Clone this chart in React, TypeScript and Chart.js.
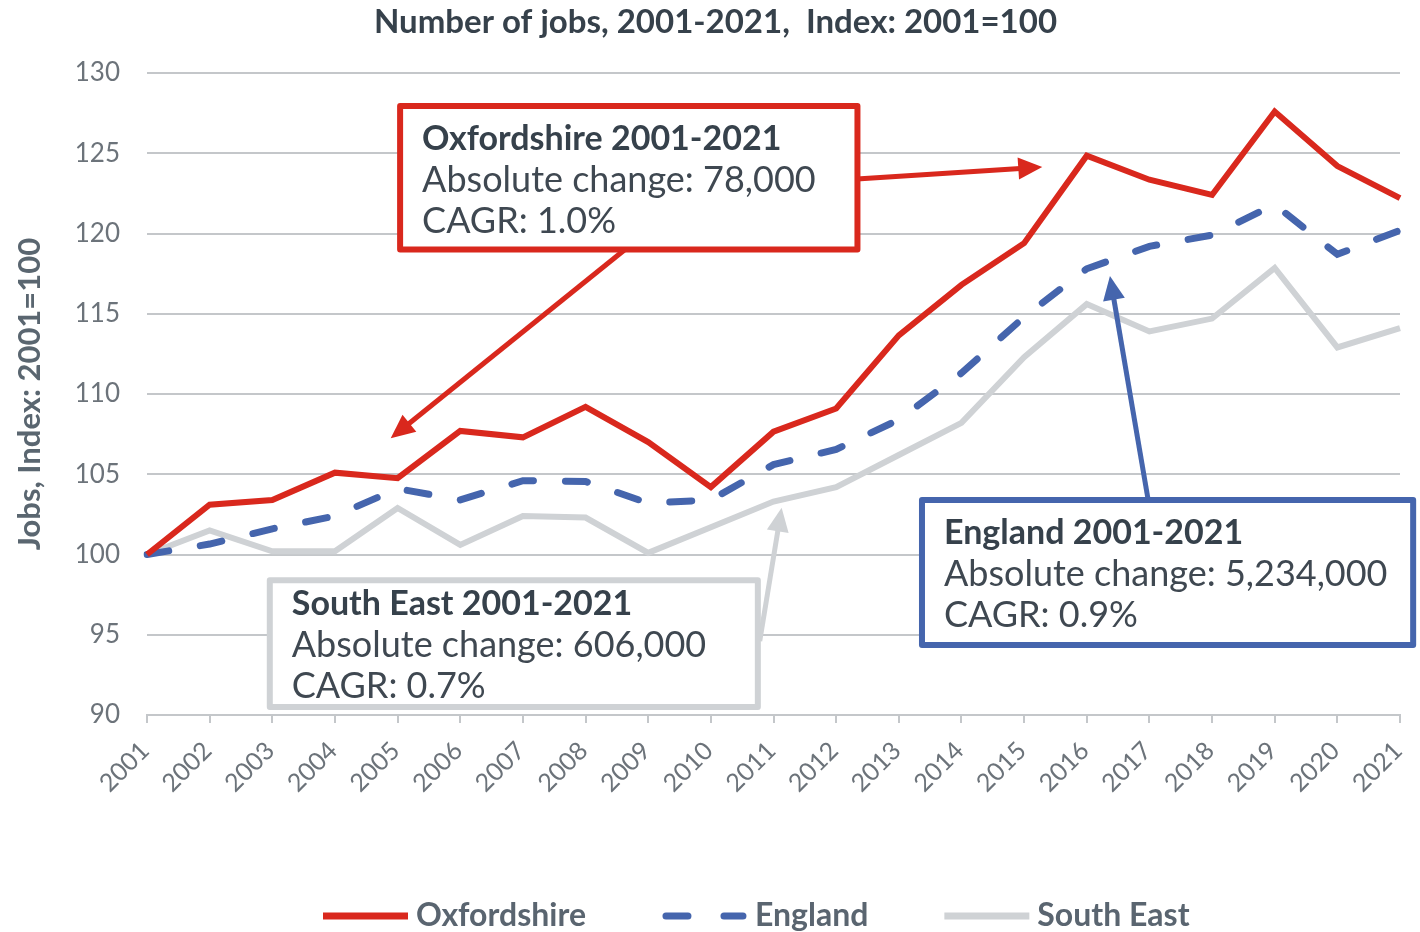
import React, { useEffect, useRef } from 'react';
import { Chart, registerables } from 'chart.js';

Chart.register(...registerables);

const years = ['2001', '2002', '2003', '2004', '2005', '2006', '2007', '2008', '2009', '2010', '2011', '2012', '2013', '2014', '2015', '2016', '2017', '2018', '2019', '2020', '2021'];
const oxfordshire = [100, 103.1, 103.4, 105.1, 104.75, 107.7, 107.3, 109.2, 107.0, 104.2, 107.65, 109.1, 113.65, 116.8, 119.4, 124.85, 123.35, 122.4, 127.6, 124.2, 122.2];
const england = [100, 100.65, 101.6, 102.4, 104.1, 103.4, 104.6, 104.55, 103.2, 103.4, 105.6, 106.55, 108.4, 111.3, 114.8, 117.8, 119.2, 119.9, 121.8, 118.7, 120.2];
const southEast = [100, 101.5, 100.2, 100.2, 102.9, 100.6, 102.4, 102.3, 100.1, 101.7, 103.3, 104.2, 106.2, 108.2, 112.3, 115.6, 113.9, 114.7, 117.85, 112.9, 114.1];
const yMin = 90;
const yMax = 130;
const yStep = 5;

const TITLE = 'Number of jobs, 2001-2021,  Index: 2001=100';
const Y_TITLE = 'Jobs, Index: 2001=100';

const RED = '#d9281d';
const BLUE = '#4565ad';
const GRAY = '#cfd2d5';
const TEXT_DARK = '#36414b';
const TEXT_REG = '#3f4851';
const TICK = '#6c737a';
const GRID = '#c4c7ca';
const FONT = 'Lato, "Open Sans", sans-serif';

// Annotation callouts anchored in data space (x = category index, y = index value)
const callouts = [
  {
    color: RED,
    box: { left: 4.04, right: 11.34, top: 127.94, bottom: 119.0 },
    firstLine: 33,
    lines: ['Oxfordshire 2001-2021', 'Absolute change: 78,000', 'CAGR: 1.0%'],
    arrows: [
      { from: [7.63, 119.0], to: [3.89, 107.24] },
      { from: [11.33, 123.4], to: [14.29, 124.14] },
    ],
  },
  {
    color: BLUE,
    box: { left: 12.37, right: 20.21, top: 103.4, bottom: 94.36 },
    firstLine: 33,
    lines: ['England 2001-2021', 'Absolute change: 5,234,000', 'CAGR: 0.9%'],
    arrows: [{ from: [15.98, 103.4], to: [15.37, 117.35] }],
  },
  {
    color: GRAY,
    box: { left: 1.96, right: 9.75, top: 98.4, bottom: 90.5 },
    firstLine: 24,
    lines: ['South East 2001-2021', 'Absolute change: 606,000', 'CAGR: 0.7%'],
    arrows: [{ from: [9.78, 94.6], to: [10.13, 102.92] }],
  },
];

const titlePlugin = {
  id: 'customTitle',
  afterDraw(chart: any) {
    const { ctx, chartArea } = chart;
    ctx.save();
    ctx.font = `bold 33px ${FONT}`;
    ctx.fillStyle = TEXT_DARK;
    ctx.textAlign = 'center';
    ctx.textBaseline = 'middle';
    ctx.fillText(TITLE, (chartArea.left + chartArea.right) / 2 - 58, chartArea.top - 51);
    ctx.restore();
  },
};

const calloutPlugin = {
  id: 'callouts',
  afterDatasetsDraw(chart: any) {
    const { ctx, scales } = chart;
    const xs = scales.x;
    const ys = scales.y;
    const px = (i: number) => xs.left + (i / (years.length - 1)) * (xs.right - xs.left);
    const py = (v: number) => ys.getPixelForValue(v);
    ctx.save();
    callouts.forEach((c) => {
      c.arrows.forEach((a) => {
        const x0 = px(a.from[0]);
        const y0 = py(a.from[1]);
        const x1 = px(a.to[0]);
        const y1 = py(a.to[1]);
        const dx = x1 - x0;
        const dy = y1 - y0;
        const len = Math.hypot(dx, dy);
        const ux = dx / len;
        const uy = dy / len;
        const head = 24;
        const half = 11;
        const bx = x1 - ux * head;
        const by = y1 - uy * head;
        ctx.strokeStyle = c.color;
        ctx.fillStyle = c.color;
        ctx.lineWidth = 5;
        ctx.lineCap = 'butt';
        ctx.setLineDash([]);
        ctx.beginPath();
        ctx.moveTo(x0, y0);
        ctx.lineTo(bx + ux * 2, by + uy * 2);
        ctx.stroke();
        ctx.beginPath();
        ctx.moveTo(x1, y1);
        ctx.lineTo(bx - uy * half, by + ux * half);
        ctx.lineTo(bx + uy * half, by - ux * half);
        ctx.closePath();
        ctx.fill();
      });
      const l = px(c.box.left);
      const r = px(c.box.right);
      const t = py(c.box.top);
      const b = py(c.box.bottom);
      ctx.fillStyle = '#ffffff';
      ctx.fillRect(l, t, r - l, b - t);
      ctx.strokeStyle = c.color;
      ctx.lineWidth = 6;
      ctx.lineJoin = 'round';
      ctx.strokeRect(l, t, r - l, b - t);
      ctx.textBaseline = 'middle';
      ctx.textAlign = 'left';
      c.lines.forEach((line, i) => {
        ctx.font = i === 0 ? `bold 34px ${FONT}` : `36px ${FONT}`;
        ctx.fillStyle = i === 0 ? TEXT_DARK : TEXT_REG;
        ctx.fillText(line, l + 22, t + c.firstLine + i * 41);
      });
    });
    ctx.restore();
  },
};

const legendPlugin = {
  id: 'customLegend',
  afterDraw(chart: any) {
    const { ctx, chartArea } = chart;
    const lineLen = 85;
    const gapText = 8;
    const gapItem = 72;
    ctx.save();
    ctx.font = `bold 32px ${FONT}`;
    ctx.textBaseline = 'middle';
    ctx.textAlign = 'left';
    const items = chart.data.datasets.map((d: any) => ({
      label: d.label,
      color: d.borderColor,
      dashed: !!(d.borderDash && d.borderDash.length),
      width: ctx.measureText(d.label).width,
    }));
    let x = chartArea.left + 176;
    const y = chartArea.bottom + 201;
    items.forEach((it: any) => {
      ctx.strokeStyle = it.color;
      ctx.lineWidth = 7;
      ctx.lineCap = it.dashed ? 'round' : 'butt';
      ctx.setLineDash(it.dashed ? [22, 36] : []);
      ctx.beginPath();
      ctx.moveTo(x + (it.dashed ? 4 : 0), y);
      ctx.lineTo(x + lineLen - (it.dashed ? 4 : 0), y);
      ctx.stroke();
      ctx.setLineDash([]);
      ctx.fillStyle = '#5a6570';
      ctx.fillText(it.label, x + lineLen + gapText, y);
      x += lineLen + gapText + it.width + gapItem + 4;
    });
    ctx.restore();
  },
};

export default function App() {
  const ref = useRef<HTMLCanvasElement | null>(null);

  useEffect(() => {
    if (!ref.current) return;
    const chart = new Chart(ref.current, {
      type: 'line',
      data: {
        labels: years,
        datasets: [
          {
            label: 'Oxfordshire',
            data: oxfordshire,
            borderColor: RED,
            backgroundColor: RED,
            borderWidth: 6,
            pointRadius: 0,
            tension: 0,
          },
          {
            label: 'England',
            data: england,
            borderColor: BLUE,
            backgroundColor: BLUE,
            borderWidth: 7,
            borderDash: [22, 32],
            borderCapStyle: 'round',
            pointRadius: 0,
            tension: 0,
          },
          {
            label: 'South East',
            data: southEast,
            borderColor: GRAY,
            backgroundColor: GRAY,
            borderWidth: 6,
            pointRadius: 0,
            tension: 0,
          },
        ],
      },
      options: {
        responsive: false,
        animation: false,
        devicePixelRatio: 1,
        layout: { padding: { left: 0, right: 20, top: 73, bottom: 0 } },
        plugins: {
          legend: { display: false },
          tooltip: { enabled: false },
          title: { display: false },
        },
        scales: {
          x: {
            type: 'category',
            offset: false,
            grid: {
              drawOnChartArea: false,
              drawTicks: true,
              tickLength: 8,
              color: GRID,
              lineWidth: 2,
            },
            border: { display: true, color: GRID, width: 2 },
            ticks: {
              autoSkip: false,
              maxRotation: 45,
              minRotation: 45,
              color: TICK,
              font: { family: FONT, size: 25 },
              padding: 13,
              labelOffset: -2,
            },
            afterFit: (axis: any) => {
              axis.height = 217;
              axis.paddingRight = 0;
              axis.paddingLeft = 0;
            },
          },
          y: {
            min: yMin,
            max: yMax,
            grid: { color: GRID, lineWidth: 2, drawTicks: false },
            border: { display: false },
            ticks: {
              stepSize: yStep,
              color: TICK,
              font: { family: FONT, size: 26 },
              padding: 27,
            },
            title: {
              display: true,
              text: Y_TITLE,
              color: '#5a6670',
              font: { family: FONT, size: 31, weight: 'bold' },
              padding: { top: 11, bottom: 0 },
            },
            afterFit: (axis: any) => {
              axis.width = 147;
              axis.paddingTop = 0;
              axis.paddingBottom = 0;
            },
          },
        },
      },
      plugins: [titlePlugin, calloutPlugin, legendPlugin],
    } as any);
    return () => chart.destroy();
  }, []);

  return (
    <div style={{ position: 'absolute', left: 0, top: 0, width: 1420, height: 932, overflow: 'hidden', background: '#ffffff' }}>
      <canvas ref={ref} width={1420} height={932} style={{ display: 'block', width: 1420, height: 932 }} />
    </div>
  );
}
